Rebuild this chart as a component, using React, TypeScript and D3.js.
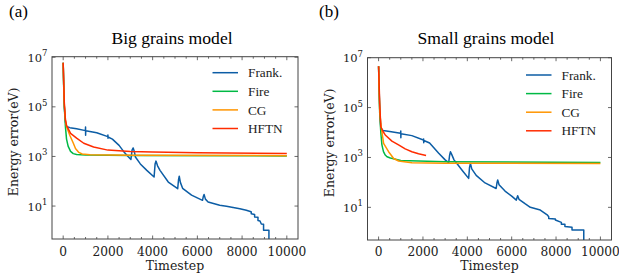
import React from 'react';
import * as d3 from 'd3';

type Pt = [number, number];

const seriesNames = ['Frank.', 'Fire', 'CG', 'HFTN'];
const seriesColors = ['#0C5DA5', '#00B945', '#FF9500', '#FF2C00'];
const xTicks = [0, 2000, 4000, 6000, 8000, 10000];
const yTickExps = [1, 3, 5, 7];

// (a) big grains
const bigFrank: Pt[] = [
  [0, 6e6], [20, 1e6], [50, 1e5], [100, 2.5e4], [150, 1.6e4], [300, 1.45e4], [600, 1.3e4],
  [995, 1.1e4], [1000, 1.55e4], [1003, 7.2e3], [1008, 1.08e4], [1500, 9e3], [1995, 6.3e3],
  [2000, 7.3e3], [2004, 5.4e3], [2008, 6.1e3], [2200, 5e3], [2500, 2.8e3], [2700, 1.6e3],
  [2900, 1.0e3], [3030, 760], [3080, 1.8e3], [3130, 2.2e3], [3180, 1.6e3], [3230, 950],
  [3450, 500], [3740, 275], [4065, 148], [4110, 500], [4150, 650], [4220, 420], [4330, 275],
  [4700, 93], [5120, 50], [5160, 120], [5190, 160], [5240, 90], [5340, 52], [5740, 27.5],
  [6230, 17], [6270, 25], [6300, 29.5], [6360, 19], [6480, 14.7], [7000, 10.7], [7300, 9.8],
  [7600, 8.7], [7900, 7.8], [8190, 6.8], [8400, 5.9], [8410, 5.9], [8410, 4.9], [8560, 4.6],
  [8560, 3.6], [8710, 3.5], [8710, 2.6], [8800, 2.5], [8860, 1.9], [8960, 1.85], [8960, 1.05],
  [9200, 1.05], [9200, 0.1],
];
const bigFire: Pt[] = [
  [0, 6e6], [20, 8e5], [50, 1e5], [100, 1.6e4], [150, 5e3], [220, 2.6e3], [330, 1.6e3],
  [450, 1.3e3], [600, 1.2e3], [1000, 1.15e3], [3000, 1.1e3], [10000, 1.05e3],
];
const bigCG: Pt[] = [
  [0, 6e6], [20, 1e6], [50, 1.2e5], [100, 3e4], [150, 1.6e4], [300, 7e3], [450, 3.5e3],
  [550, 2.1e3], [700, 1.45e3], [850, 1.25e3], [1200, 1.18e3], [3000, 1.12e3], [10000, 1.07e3],
];
const bigHFTN: Pt[] = [
  [0, 6e6], [20, 1.5e6], [50, 1.5e5], [100, 3e4], [150, 1.8e4], [330, 8.5e3], [600, 5.5e3],
  [920, 3.4e3], [1360, 2.4e3], [2000, 1.8e3], [3000, 1.6e3], [4000, 1.5e3], [6000, 1.4e3],
  [10000, 1.3e3],
];

// (b) small grains
const smallFrank: Pt[] = [
  [0, 4.5e6], [20, 8e5], [50, 9e4], [100, 1.5e4], [200, 1.2e4], [500, 1.1e4], [990, 9.3e3],
  [1000, 1.15e4], [1004, 6.2e3], [1008, 9e3], [1500, 7.5e3], [2020, 5e3], [2030, 5.5e3],
  [2035, 3.9e3], [2040, 4.8e3], [2300, 3.8e3], [2700, 1.5e3], [3000, 800], [3160, 620],
  [3200, 1.2e3], [3240, 1.7e3], [3300, 1.3e3], [3400, 800], [3530, 570], [3800, 280],
  [4060, 145], [4100, 400], [4140, 575], [4200, 350], [4400, 190], [4800, 95], [5300, 57],
  [5340, 100], [5370, 124], [5430, 80], [5700, 45], [6000, 28], [6210, 19.5], [6250, 26],
  [6270, 29], [6330, 21], [6600, 14], [6840, 10], [7290, 7.8], [7600, 5], [7670, 4.2],
  [7670, 3.6], [7970, 3.4], [7970, 3.1], [8240, 2.5], [8240, 2.1], [8400, 2.1], [8400, 1.7],
  [8720, 1.6], [8720, 1.23], [9250, 1.23], [9250, 0.1],
];
const smallFire: Pt[] = [
  [0, 4.5e6], [20, 6e5], [50, 6e4], [100, 1e4], [150, 3.2e3], [220, 1.7e3], [300, 1.25e3],
  [380, 1.07e3], [530, 950], [1000, 750], [3000, 680], [10000, 630],
];
const smallCG: Pt[] = [
  [0, 4.5e6], [20, 7e5], [50, 8e4], [100, 2.2e4], [225, 3.7e3], [450, 1.7e3], [680, 910],
  [900, 720], [1500, 620], [3000, 590], [10000, 575],
];
const smallHFTN: Pt[] = [
  [0, 4.5e6], [20, 1.2e6], [50, 1.5e5], [100, 1.7e4], [200, 1.1e4], [300, 8e3], [600, 4.5e3],
  [900, 3.2e3], [1200, 2.2e3], [1500, 1.7e3], [1800, 1.4e3], [2140, 1.2e3],
];

const panels = [
  {
    id: 'a', tag: '(a)', title: 'Big grains model', tagX: 9, titleX: 172,
    left: 52, right: 298, top: 56.7, bottom: 239, yMin: 0.47, yMax: 1.05e7,
    series: [bigFrank, bigFire, bigCG, bigHFTN], legX: 212.5, legY: 72.7,
  },
  {
    id: 'b', tag: '(b)', title: 'Small grains model', tagX: 319, titleX: 486,
    left: 367.5, right: 611.5, top: 57.7, bottom: 240, yMin: 0.49, yMax: 1.0e7,
    series: [smallFrank, smallFire, smallCG, smallHFTN], legX: 526, legY: 75,
  },
];

const serif = '"Liberation Serif", "Times New Roman", serif';
const dvs = '"DejaVu Serif", serif';
const frame = '#444';

function Panel({ p }: { p: (typeof panels)[number] }) {
  const x = d3.scaleLinear().domain([-500, 10500]).range([p.left, p.right]);
  const y = d3.scaleLog().domain([p.yMin, p.yMax]).range([p.bottom, p.top]);
  const line = d3.line<Pt>().x((d) => x(d[0])).y((d) => y(d[1]));
  const minor = d3.range(500, 10001, 500).filter((v) => v % 2000 !== 0);
  const clipId = `clip-${p.id}`;
  return (
    <g>
      <defs>
        <clipPath id={clipId}>
          <rect x={p.left} y={p.top} width={p.right - p.left} height={p.bottom - p.top} />
        </clipPath>
      </defs>
      <text x={p.tagX} y={17} fontFamily={serif} fontSize={17}>{p.tag}</text>
      <text x={p.titleX} y={44.3} fontFamily={serif} fontSize={17.6} textAnchor="middle">{p.title}</text>

      <g clipPath={`url(#${clipId})`} fill="none" strokeWidth={1.5} strokeLinejoin="round">
        {p.series.map((s, i) => (
          <path key={i} d={line(s) ?? ''} stroke={seriesColors[i]} />
        ))}
      </g>

      {/* ticks */}
      <g stroke={frame} strokeWidth={0.8}>
        {xTicks.map((t) => (
          <g key={t}>
            <line x1={x(t)} x2={x(t)} y1={p.bottom} y2={p.bottom - 3.5} />
            <line x1={x(t)} x2={x(t)} y1={p.top} y2={p.top + 3.5} />
          </g>
        ))}
        {minor.map((t) => (
          <g key={t}>
            <line x1={x(t)} x2={x(t)} y1={p.bottom} y2={p.bottom - 2} />
            <line x1={x(t)} x2={x(t)} y1={p.top} y2={p.top + 2} />
          </g>
        ))}
        {yTickExps.map((e) => (
          <g key={e}>
            <line x1={p.left} x2={p.left + 3.5} y1={y(10 ** e)} y2={y(10 ** e)} />
            <line x1={p.right} x2={p.right - 3.5} y1={y(10 ** e)} y2={y(10 ** e)} />
          </g>
        ))}
      </g>
      <rect x={p.left} y={p.top} width={p.right - p.left} height={p.bottom - p.top}
        fill="none" stroke={frame} strokeWidth={1} />

      {xTicks.map((t) => (
        <text key={t} x={x(t)} y={256} fontFamily={dvs} fontSize={12.2} textAnchor="middle" fill="#222">{t}</text>
      ))}
      {yTickExps.map((e) => (
        <text key={e} x={p.left - 4.5} y={y(10 ** e) + 4.5} fontFamily={dvs} fontSize={11.5} textAnchor="end" fill="#222">
          <tspan>10</tspan>
          <tspan dy={-5.5} fontSize={8.5}>{e}</tspan>
        </text>
      ))}
      <text x={(p.left + p.right) / 2} y={270} fontFamily={dvs} fontSize={12.5} textAnchor="middle" fill="#222">Timestep</text>
      <text transform={`translate(${p.left - 34},${(p.top + p.bottom) / 2 - 6}) rotate(-90)`}
        fontFamily={dvs} fontSize={12.5} textAnchor="middle" fill="#222">Energy error(eV)</text>

      {seriesNames.map((n, i) => {
        const ly = p.legY + i * 18.6;
        return (
          <g key={n}>
            <line x1={p.legX} x2={p.legX + 25.5} y1={ly} y2={ly} stroke={seriesColors[i]} strokeWidth={1.5} />
            <text x={p.legX + 35.5} y={ly + 4.6} fontFamily={serif} fontSize={13.3} fill="#222">{n}</text>
          </g>
        );
      })}
    </g>
  );
}

export default function App() {
  return (
    <svg width={619} height={275} style={{ position: 'absolute', left: 0, top: 0, background: '#fff' }}>
      <rect width={619} height={275} fill="#fff" />
      {panels.map((p) => <Panel key={p.id} p={p} />)}
    </svg>
  );
}
